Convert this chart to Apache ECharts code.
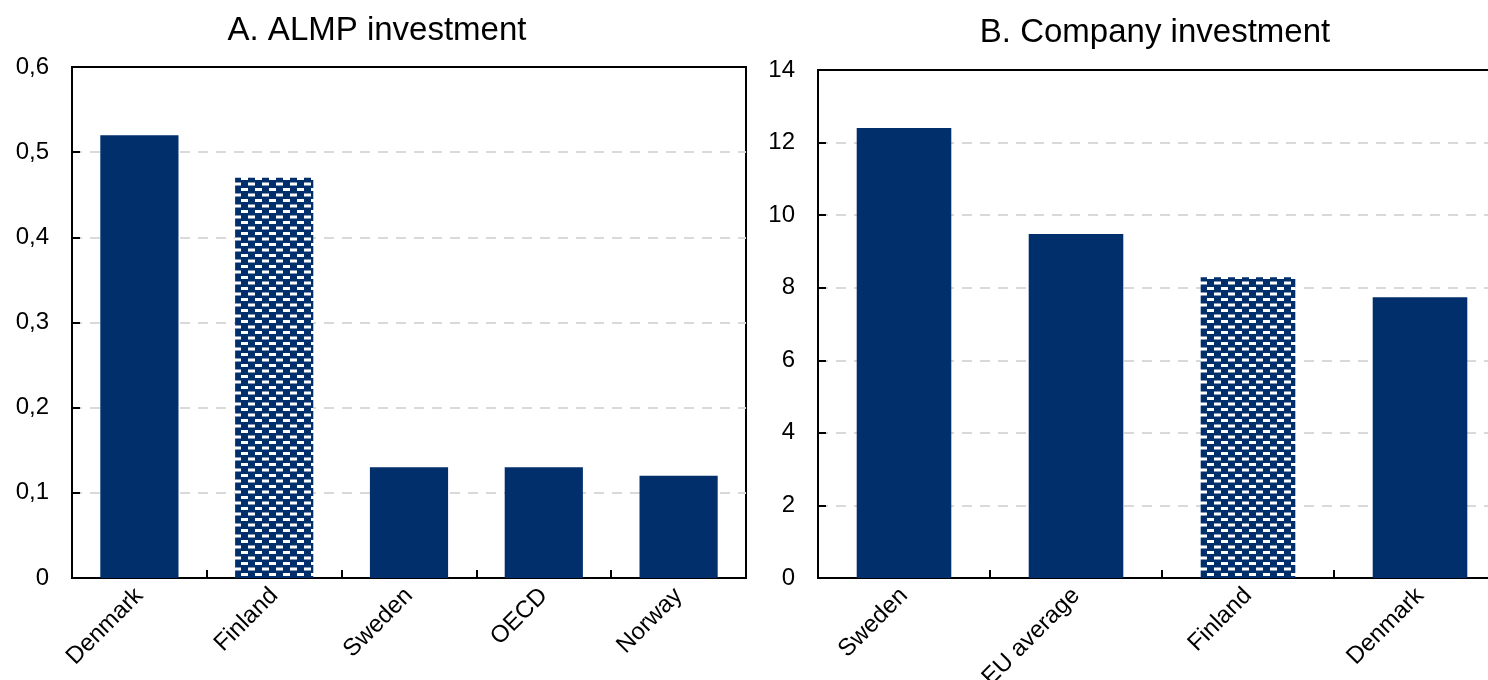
<!DOCTYPE html>
<html>
<head>
<meta charset="utf-8">
<script src="https://cdn.jsdelivr.net/npm/echarts@6/dist/echarts.min.js"></script>
<style>html,body{margin:0;padding:0;background:#fff}#c{width:1488px;height:680px}</style>
</head>
<body>
<div id="c"></div>
<script>
const titleA = 'A. ALMP investment';
const titleB = 'B. Company investment';
const catsA = ['Denmark', 'Finland', 'Sweden', 'OECD', 'Norway'];
const valsA = [0.52, 0.47, 0.13, 0.13, 0.12];
const catsB = ['Sweden', 'EU average', 'Finland', 'Denmark'];
const valsB = [12.4, 9.48, 8.29, 7.74];
const highlight = 'Finland';

const NAVY = '#002f6c';
const FONT = 'Liberation Sans, Arial, sans-serif';
function makePattern() {
  const c = document.createElement('canvas');
  c.width = 14; c.height = 11;
  const g = c.getContext('2d');
  g.fillStyle = NAVY; g.fillRect(0, 0, 14, 11);
  g.fillStyle = '#ffffff';
  g.fillRect(3, 1, 7, 3);
  g.fillRect(10, 6.5, 4, 3);
  g.fillRect(0, 6.5, 3, 3);
  return c;
}
const pat = { image: makePattern(), repeat: 'repeat' };

function barData(cats, vals) {
  return vals.map((v, i) => ({
    value: v,
    itemStyle: { color: cats[i] === highlight ? pat : NAVY }
  }));
}

const chart = echarts.init(document.getElementById('c'), null, { renderer: 'canvas' });
const yCommon = {
  type: 'value',
  axisLine: { show: true, lineStyle: { color: '#000', width: 2 } },
  axisTick: { show: true, inside: true, length: 8, lineStyle: { color: '#000', width: 2 } },
  splitLine: { show: true, showMinLine: false, showMaxLine: false,
    lineStyle: { color: '#d9d9d9', width: 2, type: [10, 8] } },
};
const xCommon = {
  type: 'category',
  axisLine: { show: true, lineStyle: { color: '#000', width: 2 } },
  axisTick: { show: true, inside: true, length: 8, lineStyle: { color: '#000', width: 2 } },
};
const titleStyle = { fontFamily: FONT, fontSize: 33, fontWeight: 'normal', color: '#000' };
chart.setOption({
  animation: false,
  backgroundColor: '#fff',
  title: [
    { text: titleA, left: 372, top: 9, textAlign: 'center', textStyle: titleStyle },
    { text: titleB, left: 1150, top: 11, textAlign: 'center', textStyle: titleStyle }
  ],
  grid: [
    { left: 72, top: 67, width: 674, bottom: 102, outerBoundsMode: 'none', containLabel: false,
      show: true, borderColor: '#000', borderWidth: 2, backgroundColor: 'transparent' },
    { left: 818, top: 70, width: 688, bottom: 102, outerBoundsMode: 'none', containLabel: false,
      show: true, borderColor: '#000', borderWidth: 2, backgroundColor: 'transparent' }
  ],
  xAxis: [
    Object.assign({}, xCommon, { gridIndex: 0, data: catsA,
      axisLabel: { rotate: 45, margin: 14, color: '#000', fontFamily: FONT, fontSize: 24 } }),
    Object.assign({}, xCommon, { gridIndex: 1, data: catsB,
      axisLabel: { rotate: 45, margin: 14, color: '#000', fontFamily: FONT, fontSize: 24 } })
  ],
  yAxis: [
    Object.assign({}, yCommon, { gridIndex: 0, min: 0, max: 0.6, interval: 0.1,
      axisLabel: { margin: 23, color: '#000', fontFamily: FONT, fontSize: 24,
        formatter: v => String(Math.round(v * 10) / 10).replace('.', ',') } }),
    Object.assign({}, yCommon, { gridIndex: 1, min: 0, max: 14, interval: 2,
      axisLabel: { margin: 23, color: '#000', fontFamily: FONT, fontSize: 24 } })
  ],
  series: [
    { type: 'bar', xAxisIndex: 0, yAxisIndex: 0, barWidth: '58%', data: barData(catsA, valsA) },
    { type: 'bar', xAxisIndex: 1, yAxisIndex: 1, barWidth: '55%', data: barData(catsB, valsB) }
  ]
});
</script>
</body>
</html>
